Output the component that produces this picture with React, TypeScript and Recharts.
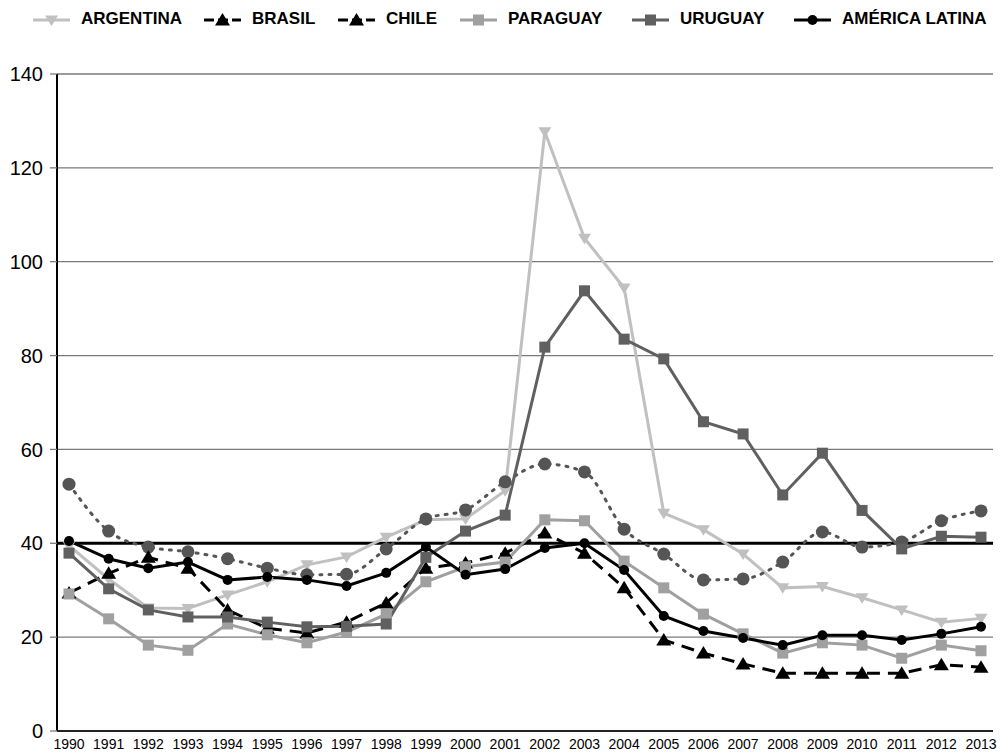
import React from 'react';
import { LineChart, Line, XAxis, YAxis, CartesianGrid, ReferenceLine } from 'recharts';

const years = [
  '1990', '1991', '1992', '1993', '1994', '1995', '1996', '1997', '1998', '1999', '2000', '2001',
  '2002', '2003', '2004', '2005', '2006', '2007', '2008', '2009', '2010', '2011', '2012', '2013',
];

const argentina = [39.5, 32.4, 26.2, 26.1, 29, 31.8, 35.4, 37.1, 41.3, 45, 45.2, 51.2, 127.7, 105, 94.4, 46.4, 42.9, 37.7, 30.5, 30.8, 28.4, 25.8, 23.2, 24];
const brasil = [52.6, 42.6, 39.2, 38.2, 36.7, 34.7, 33.3, 33.4, 38.8, 45.2, 47.1, 53.1, 56.9, 55.2, 43, 37.7, 32.2, 32.4, 36, 42.4, 39.2, 40.3, 44.8, 46.9];
const chile = [29.4, 33.6, 37, 34.7, 25.8, 21.9, 20.9, 23.2, 27.3, 34.7, 35.8, 37.9, 42.2, 37.9, 30.5, 19.4, 16.6, 14.3, 12.3, 12.3, 12.3, 12.3, 14.1, 13.6];
const paraguay = [29.2, 23.9, 18.3, 17.2, 22.8, 20.5, 18.8, 21.1, 24.9, 31.8, 35, 36, 45, 44.8, 36.2, 30.5, 24.9, 20.7, 16.6, 18.8, 18.3, 15.5, 18.3, 17.1];
const uruguay = [37.9, 30.3, 25.8, 24.3, 24.3, 23.2, 22.2, 22.3, 22.8, 37, 42.6, 46, 81.8, 93.8, 83.5, 79.3, 65.9, 63.3, 50.3, 59.2, 47, 38.8, 41.5, 41.3];
const americaLatina = [40.5, 36.7, 34.7, 36, 32.2, 32.8, 32.2, 30.9, 33.7, 39.2, 33.3, 34.5, 39, 40, 34.3, 24.5, 21.3, 19.8, 18.3, 20.4, 20.4, 19.4, 20.7, 22.2];

const yTicks = [0, 20, 40, 60, 80, 100, 120, 140];

const data = years.map((year, i) => ({
  year,
  argentina: argentina[i],
  brasil: brasil[i],
  chile: chile[i],
  paraguay: paraguay[i],
  uruguay: uruguay[i],
  americaLatina: americaLatina[i],
}));

const FONT = '"Liberation Sans", Arial, sans-serif';

// marker shapes, used by both the lines and the legend
const downTriangle = (cx: number, cy: number, fill: string, key?: any) => (
  <path key={key} d={`M${cx - 6.5},${cy - 4.5}L${cx + 6.5},${cy - 4.5}L${cx},${cy + 6}Z`} fill={fill} />
);
const upTriangle = (cx: number, cy: number, fill: string, key?: any) => (
  <path key={key} d={`M${cx},${cy - 7}L${cx + 7.5},${cy + 5.5}L${cx - 7.5},${cy + 5.5}Z`} fill={fill} />
);
const square = (cx: number, cy: number, fill: string, key?: any) => (
  <rect key={key} x={cx - 5.5} y={cy - 5.5} width={11} height={11} fill={fill} />
);
const circle = (r: number) => (cx: number, cy: number, fill: string, key?: any) => (
  <circle key={key} cx={cx} cy={cy} r={r} fill={fill} />
);

const dotOf = (shape: typeof square, fill: string) => (props: any) =>
  shape(props.cx, props.cy, fill, `${props.dataKey}-${props.index}`);

// legend entries; left = where each entry starts in the top row
const legendItems = [
  { label: 'ARGENTINA', left: 33, color: '#c0c0c0', dash: undefined, shape: downTriangle },
  { label: 'BRASIL', left: 204, color: '#000000', dash: '10 4', shape: upTriangle },
  { label: 'CHILE', left: 338, color: '#000000', dash: '10 4', shape: upTriangle },
  { label: 'PARAGUAY', left: 460, color: '#a0a0a0', dash: undefined, shape: square },
  { label: 'URUGUAY', left: 632, color: '#606060', dash: undefined, shape: square },
  { label: 'AMÉRICA LATINA', left: 794, color: '#000000', dash: undefined, shape: circle(5) },
];

const ChartLegend = () => (
  <>
    {legendItems.map((item) => (
      <div key={item.label} style={{ position: 'absolute', left: item.left, top: 8, display: 'flex', alignItems: 'center' }}>
        <svg width={37} height={22}>
          <line x1={0} y1={12} x2={37} y2={12} stroke={item.color} strokeWidth={3} strokeDasharray={item.dash} />
          {item.shape(18.5, 12, item.color)}
        </svg>
        <span style={{ marginLeft: 11, fontFamily: FONT, fontWeight: 'bold', fontSize: 17, color: '#000', whiteSpace: 'nowrap' }}>
          {item.label}
        </span>
      </div>
    ))}
  </>
);

export default function App() {
  return (
    <div style={{ position: 'absolute', left: 0, top: 0, width: 1002, height: 752, background: '#fff', fontFamily: FONT }}>
      <ChartLegend />
      <LineChart width={1002} height={752} data={data} margin={{ top: 74, right: 9, bottom: 0, left: 0 }}>
        <CartesianGrid vertical={false} stroke="#7a7a7a" strokeWidth={1.3} />
        <XAxis
          dataKey="year"
          padding={{ left: 12, right: 12 }}
          height={21}
          tickLine={false}
          tickSize={6}
          tickMargin={2}
          axisLine={{ stroke: '#222', strokeWidth: 2 }}
          interval={0}
          tick={{ fill: '#000', fontSize: 14, fontFamily: FONT }}
        />
        <YAxis
          domain={[0, 140]}
          ticks={yTicks}
          interval={0}
          width={57}
          tickSize={7}
          tickMargin={7}
          tickLine={{ stroke: '#7a7a7a', strokeWidth: 1.3 }}
          axisLine={{ stroke: '#000', strokeWidth: 2 }}
          tick={{ fill: '#000', fontSize: 20, fontFamily: FONT }}
        />
        <ReferenceLine y={40} stroke="#000" strokeWidth={3} />
        <Line dataKey="argentina" stroke="#c0c0c0" strokeWidth={3} dot={dotOf(downTriangle, '#c0c0c0')} isAnimationActive={false} />
        <Line dataKey="brasil" type="monotone" stroke="#555555" strokeWidth={3} strokeDasharray="2 7" strokeLinecap="round" dot={dotOf(circle(6.5), '#555555')} isAnimationActive={false} />
        <Line dataKey="chile" stroke="#000" strokeWidth={3} strokeDasharray="13 8" dot={dotOf(upTriangle, '#000')} isAnimationActive={false} />
        <Line dataKey="paraguay" stroke="#a0a0a0" strokeWidth={3} dot={dotOf(square, '#a0a0a0')} isAnimationActive={false} />
        <Line dataKey="uruguay" stroke="#606060" strokeWidth={3} dot={dotOf(square, '#606060')} isAnimationActive={false} />
        <Line dataKey="americaLatina" stroke="#000" strokeWidth={3} dot={dotOf(circle(5), '#000')} isAnimationActive={false} />
      </LineChart>
    </div>
  );
}
